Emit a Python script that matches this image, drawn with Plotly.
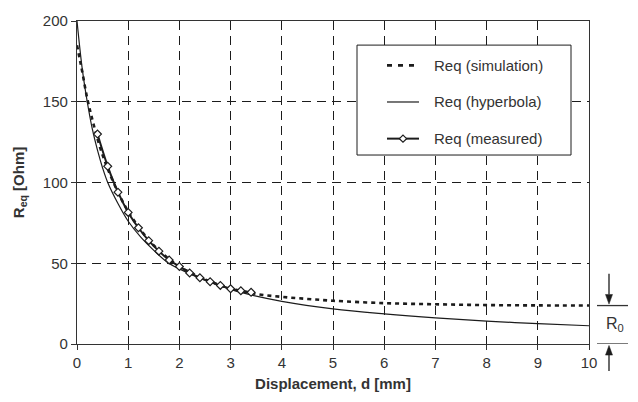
import plotly.graph_objects as go

# Simulated equivalent resistance vs displacement
d_sim = [0, 0.05, 0.1, 0.2, 0.3, 0.4, 0.5, 0.6, 0.8, 1.0, 1.2, 1.4, 1.6, 1.8, 2.0,
         2.5, 3.0, 3.5, 4.0, 4.5, 5.0, 6.0, 7.0, 8.0, 9.0, 10.0]
r_sim = [185, 177, 169, 152, 139, 127, 117, 108.5, 94, 82, 72.5, 64.5, 58, 52.5, 48,
         40, 34.5, 31, 29.2, 27.9, 26.8, 25.3, 24.6, 24.1, 23.9, 23.8]

# Hyperbolic fit
d_hyp = [0, 0.1, 0.2, 0.3, 0.4, 0.5, 0.6, 0.8, 1.0, 1.25, 1.5, 1.75, 2.0, 2.5, 3.0,
         3.5, 4.0, 5.0, 6.0, 7.0, 8.0, 9.0, 10.0]
r_hyp = [200, 171, 150, 133, 120, 109, 100, 87, 76, 66, 58, 51, 46.5, 39.5, 33.8,
         29.6, 26.4, 21.8, 18.7, 16.2, 14.2, 12.6, 11.3]

# Measured points
d_meas = [0.4, 0.6, 0.8, 1.0, 1.2, 1.4, 1.6, 1.8, 2.0, 2.2, 2.4, 2.6, 2.8, 3.0, 3.2, 3.4]
r_meas = [130, 110, 94, 81.5, 72, 64, 57.5, 52, 48, 44, 41, 38.6, 36.3, 34.2, 33, 32]

x_ticks = list(range(0, 11))
y_ticks = [0, 50, 100, 150, 200]
legend_names = ["Req (simulation)", "Req (hyperbola)", "Req (measured)"]

INK = "#1c1c1c"
AXIS = "#333333"
FONT = "Liberation Sans, Arial, sans-serif"
SIM_DASH = "4px,4px"
SIM_W, HYP_W, MEAS_W = 2.6, 1.2, 2.0

fig = go.Figure()

fig.add_trace(go.Scatter(
    x=d_sim, y=r_sim, mode="lines", name=legend_names[0], showlegend=False,
    line=dict(color=INK, width=SIM_W, dash=SIM_DASH), line_shape="spline",
))
fig.add_trace(go.Scatter(
    x=d_hyp, y=r_hyp, mode="lines", name=legend_names[1], showlegend=False,
    line=dict(color=INK, width=HYP_W), line_shape="spline",
))
fig.add_trace(go.Scatter(
    x=d_meas, y=r_meas, mode="lines+markers", name=legend_names[2], showlegend=False,
    line=dict(color=INK, width=MEAS_W), line_shape="spline",
    marker=dict(symbol="diamond", size=6, color="white",
                line=dict(color=INK, width=1.2)),
))

# pixel -> paper helpers for the 512 x 335 px plot area
PX0, PW, PY0, PH = 77, 512, 349, 335
Y_MAX = 200
def xp(px):
    return (px - PX0) / PW
def yp(py):
    return (PY0 - py) / PH

# Boxed legend
fig.add_shape(type="rect", xref="paper", yref="paper", layer="above",
              x0=xp(357), x1=xp(571), y0=yp(153), y1=yp(39),
              line=dict(color=INK, width=1), fillcolor="white")
rows = [60, 98, 136]
styles = [dict(width=SIM_W, dash="5px,6px"), dict(width=HYP_W), dict(width=MEAS_W)]
for row, st, label in zip(rows, styles, legend_names):
    fig.add_shape(type="line", xref="paper", yref="paper", layer="above",
                  x0=xp(387), x1=xp(419), y0=yp(row), y1=yp(row),
                  line=dict(color=INK, **st))
    fig.add_annotation(xref="paper", yref="paper", x=xp(432), y=yp(row),
                       xanchor="left", yanchor="middle", text=label,
                       showarrow=False, font=dict(family=FONT, size=15, color=AXIS))
cx, cy, h = 403, rows[2], 3.6
fig.add_shape(type="path", xref="paper", yref="paper", layer="above",
              path=(f"M{xp(cx - h)},{yp(cy)} L{xp(cx)},{yp(cy - h)} "
                    f"L{xp(cx + h)},{yp(cy)} L{xp(cx)},{yp(cy + h)} Z"),
              fillcolor="white", line=dict(color=INK, width=1.2))

# R0 offset marker to the right of the plot: two levels with arrows pointing at them
r0 = r_sim[-1]
ax_x = 609
for yv in (r0, 0):
    fig.add_shape(type="line", xref="paper", yref="y",
                  x0=xp(597), x1=xp(628), y0=yv, y1=yv,
                  line=dict(color=AXIS, width=1.3))

def arrow(tip_py, tail_py):
    sgn = 1 if tail_py < tip_py else -1   # +1: arrow points down
    base = tip_py - sgn * 10
    fig.add_shape(type="line", xref="paper", yref="paper",
                  x0=xp(ax_x), x1=xp(ax_x), y0=yp(tail_py), y1=yp(base),
                  line=dict(color=INK, width=1.3))
    fig.add_shape(type="path", xref="paper", yref="paper",
                  path=(f"M{xp(ax_x - 3.5)},{yp(base)} L{xp(ax_x + 3.5)},{yp(base)} "
                        f"L{xp(ax_x)},{yp(tip_py)} Z"),
                  fillcolor=INK, line=dict(color=INK, width=0.5))

r0_py = PY0 - r0 * PH / Y_MAX
arrow(r0_py - 1.5, r0_py - 33)
arrow(PY0 + 1.5, PY0 + 28)

fig.add_annotation(xref="paper", yref="y", x=xp(604), y=r0 / 2,
                   xanchor="left", yanchor="middle",
                   text="R<sub>0</sub>", showarrow=False,
                   font=dict(family=FONT, size=16, color=AXIS))

axis_common = dict(
    showgrid=True, gridcolor=INK, gridwidth=1, griddash="9px,6px",
    showline=True, linecolor=AXIS, linewidth=1.3, mirror=True,
    ticks="outside", ticklen=5, tickcolor=AXIS, tickwidth=1.2,
    zeroline=False, tickfont=dict(family=FONT, size=15, color=AXIS),
)

fig.update_xaxes(range=[0, 10], tickvals=x_ticks, **axis_common,
                 title=dict(text="<b>Displacement, d [mm]</b>", standoff=8,
                            font=dict(family=FONT, size=15, color=AXIS)))
fig.update_yaxes(range=[0, Y_MAX], tickvals=y_ticks, **axis_common,
                 title=dict(text="<b>R<sub>eq</sub> [Ohm]</b>", standoff=14,
                            font=dict(family=FONT, size=15, color=AXIS)))

fig.update_layout(
    width=638, height=402,
    margin=dict(l=PX0, r=638 - PX0 - PW, t=PY0 - PH, b=402 - PY0),
    paper_bgcolor="white", plot_bgcolor="white",
    font=dict(family=FONT, color=AXIS),
    showlegend=False,
)

fig.write_html("out.html")
